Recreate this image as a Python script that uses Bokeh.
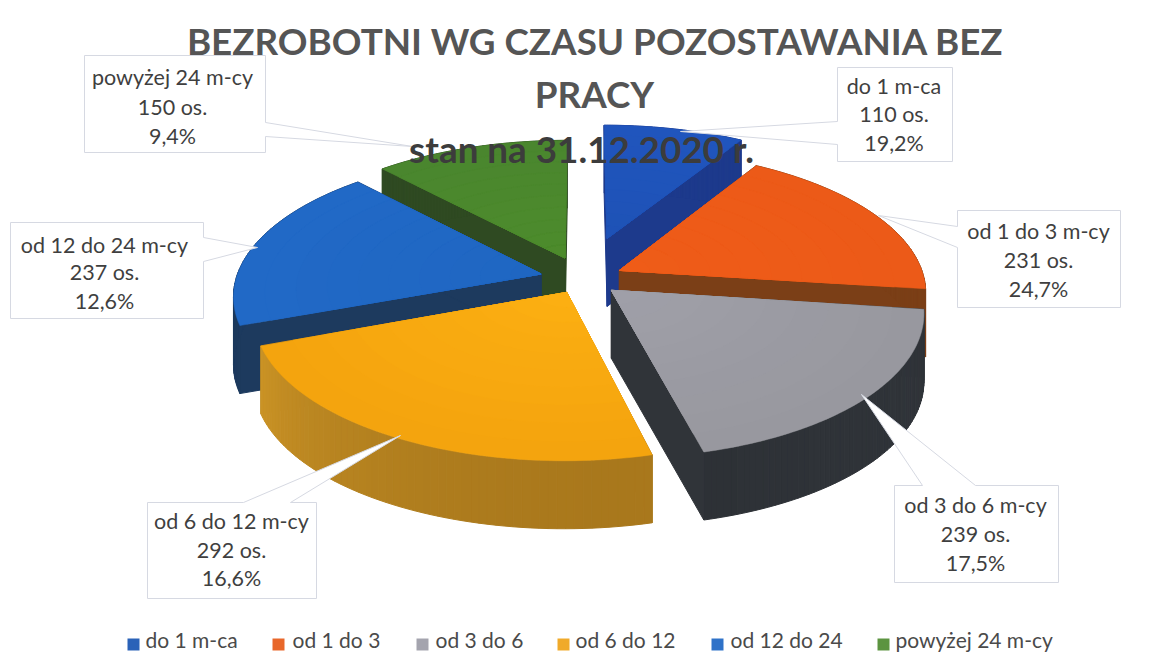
import math
from bokeh.plotting import figure
from bokeh.models import Range1d
from bokeh.core.properties import value
from bokeh.embed import file_html
from bokeh.resources import INLINE

# ---- data ----
title_lines = ["BEZROBOTNI WG CZASU POZOSTAWANIA BEZ", "PRACY", "stan na 31.12.2020 r."]
categories = ["do 1 m-ca", "od 1 do 3 m-cy", "od 3 do 6 m-cy", "od 6 do 12 m-cy", "od 12 do 24 m-cy", "powyżej 24 m-cy"]
legend_labels = ["do 1 m-ca", "od 1 do 3", "od 3 do 6", "od 6 do 12", "od 12 do 24", "powyżej 24 m-cy"]
counts = [110, 231, 239, 292, 237, 150]
percents = ["19,2%", "24,7%", "17,5%", "16,6%", "12,6%", "9,4%"]
explode = [0.31, 0.135, 0.125, 0.11, 0.14, 0.16]

# ---- styling ----
top_inner = ["#1e52b6", "#ef5c18", "#a0a0a9", "#fdb012", "#1f66c2", "#4d8c2c"]
top_outer = ["#2055bd", "#ec5a18", "#98989f", "#f4a40e", "#2169c6", "#4a862e"]
wall_a = ["#1d3a8c", "#7b3f17", "#303439", "#a9781c", "#1d3a5e", "#2f4a22"]
wall_b = ["#1d3a8c", "#7b3f17", "#2d3136", "#cb9426", "#1d3a5e", "#2f4a22"]
legend_cols = ["#2a62b8", "#e8672a", "#a4a4ae", "#f0aa2a", "#2f72c8", "#5c9440"]
CX, CY, RX, RY, K, DEPTH = 582.0, 278.0, 305.0, 140.0, 0.143, 68.0
TEXT = "#3f3f3f"
FONT = "Lato"


def project(gx, gy, z=0.0):
    s = 1.0 / (1.0 + K * gy)
    return CX + RX * gx * s, CY - RY * gy * s + z


def hex_mix(a, b, t):
    ca = [int(a[i:i + 2], 16) for i in (1, 3, 5)]
    cb = [int(b[i:i + 2], 16) for i in (1, 3, 5)]
    return "#%02x%02x%02x" % tuple(round(x + (y - x) * t) for x, y in zip(ca, cb))


p = figure(width=1161, height=653, x_range=Range1d(0, 1161), y_range=Range1d(653, 0),
           output_backend="svg", toolbar_location=None, min_border=0,
           x_axis_location=None, y_axis_location=None, outline_line_color=None,
           background_fill_color="white", border_fill_color="white")
p.grid.visible = False

total = float(sum(counts))
spans, acc = [], 0.0
for c in counts:
    spans.append((acc / total * 2 * math.pi, (acc + c) / total * 2 * math.pi))
    acc += c

# painter's order, back to front
for i in [0, 5, 1, 4, 2, 3]:
    a0, a1 = spans[i]
    mid = (a0 + a1) / 2
    ax, ay = explode[i] * math.sin(mid), explode[i] * math.cos(mid)
    n = 60
    angles = [a0 + (a1 - a0) * j / n for j in range(n + 1)]

    def rim(r, z=0.0):
        return [project(ax + r * math.sin(t), ay + r * math.cos(t), z) for t in angles]

    apex, apex_b = project(ax, ay), project(ax, ay, DEPTH)
    outer, outer_b = rim(1.0), rim(1.0, DEPTH)
    # radial faces
    for q, qb in ((outer[0], outer_b[0]), (outer[-1], outer_b[-1])):
        p.patch([apex[0], q[0], qb[0], apex_b[0]], [apex[1], q[1], qb[1], apex_b[1]],
                fill_color=wall_a[i], line_color=wall_a[i], line_width=1)
    # outer wall, strip by strip
    xs, ys, cols = [], [], []
    for j in range(n):
        xs.append([outer[j][0], outer[j + 1][0], outer_b[j + 1][0], outer_b[j][0]])
        ys.append([outer[j][1], outer[j + 1][1], outer_b[j + 1][1], outer_b[j][1]])
        cols.append(hex_mix(wall_a[i], wall_b[i], ((j / n) ** 2)))
    p.patches(xs, ys, fill_color=cols, line_color=cols, line_width=1)
    # top surface, rings
    for k in range(10):
        r = 1.0 - k / 10
        ring = rim(r)
        col = hex_mix(top_inner[i], top_outer[i], r)
        p.patch([apex[0]] + [q[0] for q in ring], [apex[1]] + [q[1] for q in ring],
                fill_color=col, line_color=col, line_width=0.5)

# ---- callouts: box (x0, x1, y0, y1), pointer base points and tip, text centre and lines ----
callouts = [
    ((837, 952, 67, 161), [(837, 144), (680, 131), (837, 121)], (893.5, 85, 113.5, 142)),
    ((957, 1120, 210, 307), [(957, 247), (878, 215), (957, 226)], (1038, 230, 259, 288)),
    ((894, 1058, 485, 582), [(975, 485), (861, 394), (922, 485)], (975, 504, 533, 562)),
    ((147, 316, 502, 598), [(290, 502), (400, 435), (243, 502)], (231, 520, 549, 577)),
    ((10, 203, 222, 318), [(203, 237), (257, 247), (203, 261)], (104, 244, 271, 300)),
    ((84, 265, 55, 152), [(265, 122), (412, 146), (265, 136)], (172, 76, 106, 135)),
]
for i, ((x0, x1, y0, y1), wedge, tpos) in enumerate(callouts):
    wx, wy = [w[0] for w in wedge], [w[1] for w in wedge]
    if wx[0] == x0:      # pointer on the left side
        px = [x0, x1, x1, x0] + wx
        py = [y0, y0, y1, y1] + wy
    elif wy[0] == y0:    # pointer on the top side
        px = [x0] + wx[::-1] + [x1, x1, x0]
        py = [y0] + wy[::-1] + [y0, y1, y1]
    else:                # pointer on the right side
        px = [x0, x1] + wx + [x1, x0]
        py = [y0, y0] + wy + [y1, y1]
    p.patch(px, py, fill_color="white", line_color="#d6d9e2", line_width=1)
    lines = [categories[i], f"{counts[i]} os.", percents[i]]
    for s, yy in zip(lines, tpos[1:]):
        p.text([tpos[0]], [yy], text=[s], text_font=value(FONT), text_font_size="21.5px",
               text_color=TEXT, text_align="center", text_baseline="middle")

# ---- title ----
for s, xx, yy, col in zip(title_lines, (595, 594, 581), (40, 93, 148), ("#555555", "#555555", "#3c3c3c")):
    p.text([xx], [yy], text=[s], text_font=value(FONT), text_font_size="36.8px", text_font_style="bold",
           text_color=col, text_align="center", text_baseline="middle")

# ---- legend ----
leg_mark_x = [133, 278, 422, 563, 717, 883]
leg_text_x = [145, 292, 435, 575, 730, 895]
leg_y = 639
p.scatter(leg_mark_x, [644] * 6, marker="square", size=12, fill_color=legend_cols, line_color=None)
for s, xx in zip(legend_labels, leg_text_x):
    p.text([xx], [leg_y], text=[s], text_font=value(FONT), text_font_size="21px",
           text_color="#4a4a4a", text_align="left", text_baseline="middle")

open("out.html", "w").write(file_html(p, INLINE))
